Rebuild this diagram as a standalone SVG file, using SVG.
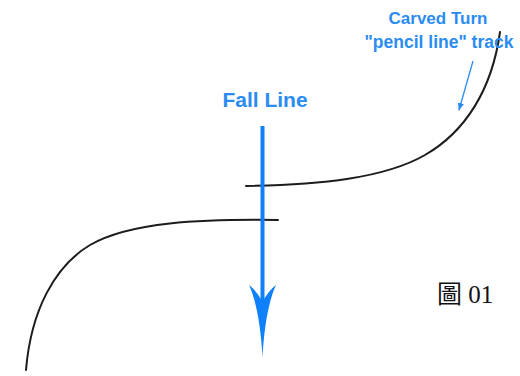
<svg xmlns="http://www.w3.org/2000/svg" width="520" height="376" viewBox="0 0 520 376">
<style>
.track{fill:none;stroke:#1c1c1c;stroke-width:2;stroke-linecap:round}
.lbl{font-family:"Liberation Sans",Arial,sans-serif;font-weight:bold;fill:#2a8cf2}
.blue{fill:#0f80fb}
</style>
<defs>
<marker id="ah" viewBox="0 0 10 10" refX="9" refY="5" markerWidth="6" markerHeight="6" orient="auto">
<path d="M0,1 L10,5 L0,9 Z" fill="#2a8cf2"/>
</marker>
</defs>
<rect width="520" height="376" fill="#ffffff"/>
<g id="upper-track">
<path class="track" d="M246,186 C320,185 385,178 425,155 C465,132 492,90 500,32"/>
</g>
<g id="lower-track">
<path class="track" d="M278,220 C200,219 130,222 90,245 C55,266 31,310 26,370"/>
</g>
<g id="fall-line">
<rect x="260.5" y="126" width="4" height="180" class="blue"/>
<path class="blue" d="M262.5,357 C261,330 257,302 249,285 Q257,291 262.5,302 Q268,291 276,285 C268,302 264,330 262.5,357 Z"/>
<text class="lbl" x="265" y="107" font-size="21" text-anchor="middle">Fall Line</text>
</g>
<g id="carved-turn-label">
<text class="lbl" x="438" y="24" font-size="17" text-anchor="middle">Carved Turn</text>
<text class="lbl" x="439" y="48" font-size="17.5" text-anchor="middle">"pencil line" track</text>
</g>
<g id="connectors">
<line x1="473" y1="61" x2="459" y2="110" stroke="#2a8cf2" stroke-width="1.3" marker-end="url(#ah)"/>
</g>
<g id="caption">
<text x="437" y="303" font-size="25" fill="#111" font-family="'Liberation Serif','Noto Sans CJK TC',serif">圖 01</text>
</g>
</svg>
